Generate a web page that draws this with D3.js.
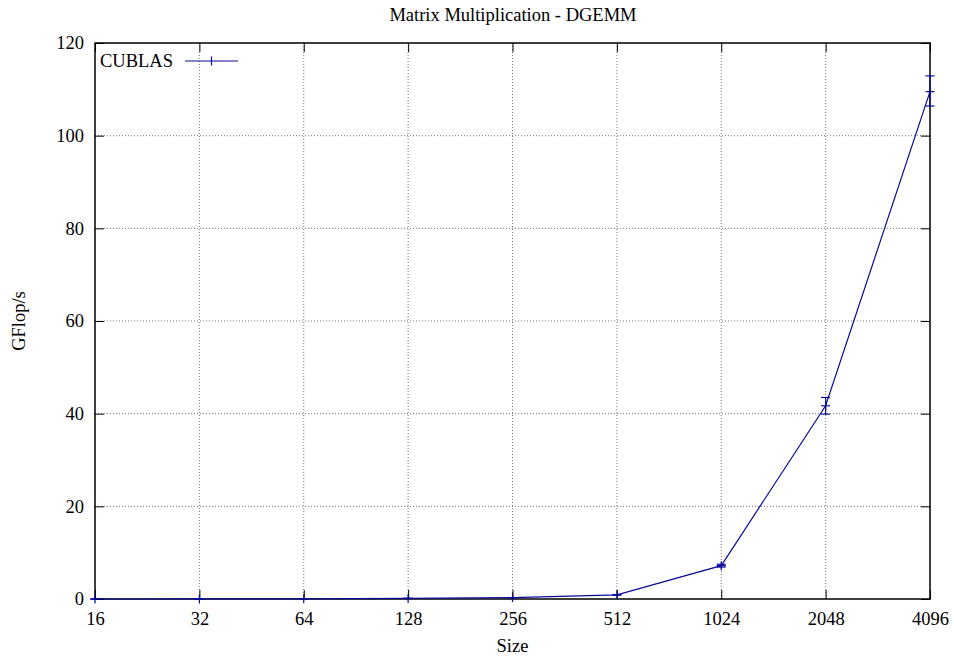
<!DOCTYPE html>
<html>
<head>
<meta charset="utf-8">
<script src="https://cdn.jsdelivr.net/npm/d3@7"></script>
<style>
  html, body { margin: 0; padding: 0; background: #fff; }
  svg { display: block; }
</style>
</head>
<body>
<svg id="chart" width="954" height="658"></svg>
<script>
// Matrix sizes (log2 axis) and measured DGEMM throughput
const sizes = [16, 32, 64, 128, 256, 512, 1024, 2048, 4096];
const gflops = [0.002, 0.01, 0.04, 0.12, 0.3, 0.9, 7.2, 41.7, 109.5];
const errLow = [0.002, 0.01, 0.04, 0.12, 0.3, 0.85, 6.9, 39.9, 106.4];
const errHigh = [0.002, 0.01, 0.04, 0.12, 0.3, 0.95, 7.5, 43.5, 112.9];
const yTicks = [0, 20, 40, 60, 80, 100, 120];
const seriesName = "CUBLAS";

const FONT = '"Liberation Serif", "Times New Roman", Times, serif';
const FS = 18.5;

const svg = d3.select("#chart");
const margin = { left: 95, right: 24, top: 43, bottom: 59 };
const W = 954, H = 658;
const color = "#0a0a96";

const x = d3.scaleLog().base(2).domain([16, 4096]).range([margin.left, W - margin.right]);
const y = d3.scaleLinear().domain([0, 120]).range([H - margin.bottom, margin.top]);

const x0 = x.range()[0], x1 = x.range()[1], y0 = y.range()[0], y1 = y.range()[1];

// dotted grid
const grid = svg.append("g").attr("stroke", "#777").attr("stroke-width", 1)
  .attr("stroke-dasharray", "1,2");
sizes.slice(1, -1).forEach(s => {
  grid.append("line").attr("x1", x(s)).attr("x2", x(s)).attr("y1", y0).attr("y2", y1);
});
yTicks.slice(1, -1).forEach(t => {
  grid.append("line").attr("x1", x0).attr("x2", x1).attr("y1", y(t)).attr("y2", y(t));
});

// axes with inward ticks on all four sides
const tickLen = 9;
const xAxisB = d3.axisBottom(x).tickValues(sizes).tickFormat(d3.format("d")).tickSizeInner(-tickLen).tickSizeOuter(0).tickPadding(13);
const xAxisT = d3.axisTop(x).tickValues(sizes).tickFormat("").tickSizeInner(-tickLen).tickSizeOuter(0);
const yAxisL = d3.axisLeft(y).tickValues(yTicks).tickSizeInner(-tickLen).tickSizeOuter(0).tickPadding(11);
const yAxisR = d3.axisRight(y).tickValues(yTicks).tickFormat("").tickSizeInner(-tickLen).tickSizeOuter(0);

function styleAxis(g) {
  g.attr("font-family", null).attr("font-size", null);
  g.select(".domain").remove();
  g.selectAll(".tick line").attr("stroke", "#000").attr("stroke-width", 1);
  g.selectAll(".tick text").style("font-family", FONT).style("font-size", FS + "px").attr("fill", "#000");
}
svg.append("g").attr("transform", `translate(0,${y0})`).call(xAxisB).call(styleAxis);
svg.append("g").attr("transform", `translate(0,${y1})`).call(xAxisT).call(styleAxis);
svg.append("g").attr("transform", `translate(${x0},0)`).call(yAxisL).call(styleAxis);
svg.append("g").attr("transform", `translate(${x1},0)`).call(yAxisR).call(styleAxis);

// frame
svg.append("rect").attr("x", x0).attr("y", y1).attr("width", x1 - x0).attr("height", y0 - y1)
  .attr("fill", "none").attr("stroke", "#000").attr("stroke-width", 1.5);

// series line
const line = d3.line().x((d, i) => x(sizes[i])).y(d => y(d));
svg.append("path").datum(gflops).attr("d", line).attr("fill", "none")
  .attr("stroke", color).attr("stroke-width", 1.2);

// error bars
const cap = 4.5;
const eb = svg.append("g").attr("stroke", color).attr("stroke-width", 1.2);
sizes.forEach((s, i) => {
  const cx = x(s);
  eb.append("line").attr("x1", cx).attr("x2", cx).attr("y1", y(errLow[i])).attr("y2", y(errHigh[i]));
  eb.append("line").attr("x1", cx - cap).attr("x2", cx + cap).attr("y1", y(errLow[i])).attr("y2", y(errLow[i]));
  eb.append("line").attr("x1", cx - cap).attr("x2", cx + cap).attr("y1", y(errHigh[i])).attr("y2", y(errHigh[i]));
});

// "+" point markers
const pm = 4.5;
const pts = svg.append("g").attr("stroke", color).attr("stroke-width", 1.2);
sizes.forEach((s, i) => {
  const cx = x(s), cy = y(gflops[i]);
  pts.append("line").attr("x1", cx - pm).attr("x2", cx + pm).attr("y1", cy).attr("y2", cy);
  pts.append("line").attr("x1", cx).attr("x2", cx).attr("y1", cy - pm).attr("y2", cy + pm);
});

function label(sel) {
  return sel.style("font-family", FONT).style("font-size", FS + "px").attr("fill", "#000");
}

// legend
const lg = svg.append("g");
lg.append("text").attr("x", 100).attr("y", 67).call(label).text(seriesName);
lg.append("line").attr("x1", 185).attr("x2", 238).attr("y1", 61).attr("y2", 61)
  .attr("stroke", color).attr("stroke-width", 1.2);
lg.append("line").attr("x1", 211.5).attr("x2", 211.5).attr("y1", 56.5).attr("y2", 65.5)
  .attr("stroke", color).attr("stroke-width", 1.2);

// titles
svg.append("text").attr("x", 513).attr("y", 20.5).attr("text-anchor", "middle")
  .call(label).text("Matrix Multiplication - DGEMM");
svg.append("text").attr("x", (x0 + x1) / 2).attr("y", 651.5).attr("text-anchor", "middle")
  .call(label).text("Size");
svg.append("text").attr("transform", `translate(25,${(y0 + y1) / 2}) rotate(-90)`)
  .attr("text-anchor", "middle").call(label).text("GFlop/s");
</script>
</body>
</html>
